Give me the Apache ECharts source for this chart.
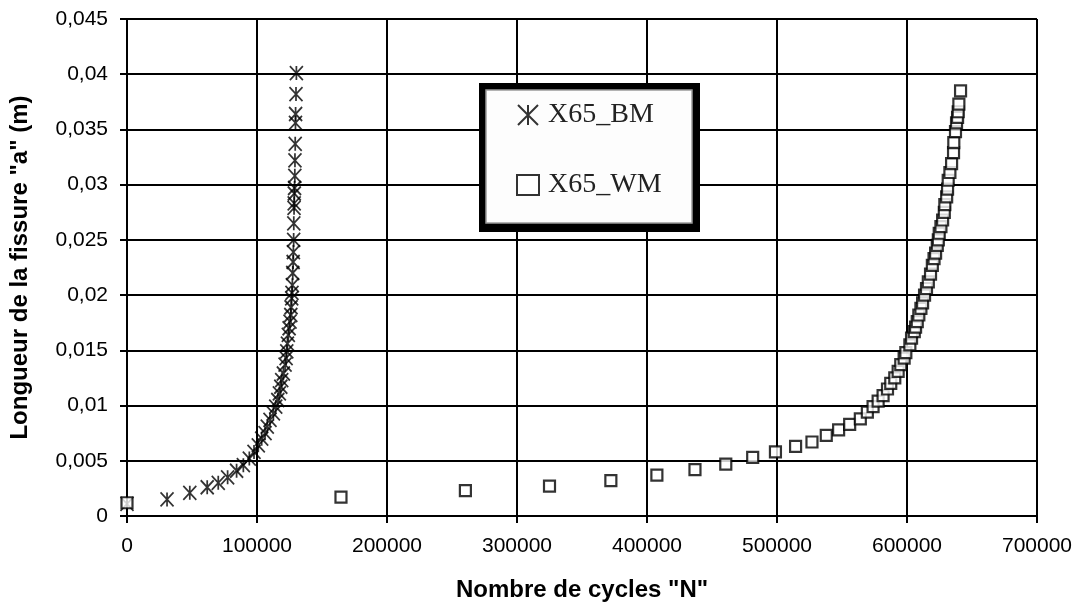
<!DOCTYPE html>
<html>
<head>
<meta charset="utf-8">
<script src="https://cdn.jsdelivr.net/npm/echarts@6/dist/echarts.min.js"></script>
<style>
html,body{margin:0;padding:0;background:#fff;}
#chart{width:1080px;height:610px;}
</style>
</head>
<body>
<div id="chart"></div>
<script>
// ---- data ----
const seriesNames = ['X65_BM', 'X65_WM'];
const xTickLabels = ['0', '100000', '200000', '300000', '400000', '500000', '600000', '700000'];
const yTickLabels = ['0', '0,005', '0,01', '0,015', '0,02', '0,025', '0,03', '0,035', '0,04', '0,045'];
const xAxisTitle = 'Nombre de cycles "N"';
const yAxisTitle = 'Longueur de la fissure "a" (m)';

const bmCycles = [0, 30800, 48300, 61700, 70200, 77400, 84300, 89500, 94100, 97700,
  101000, 103600, 106200, 107900, 110000, 112600, 114400, 116000, 117200, 118300,
  119000, 120300, 121600, 122400, 122900, 123400, 124100, 124700, 125400, 126000,
  126200, 126700, 126900, 127200, 127500, 127800, 128000, 128200, 128300, 128500,
  128600, 128700, 128900, 129100, 129200, 129400, 129600, 129700, 130000, 130300];
const bmLength = [0.0011, 0.0015, 0.0021, 0.0026, 0.0030, 0.0035, 0.0041, 0.0046, 0.0052, 0.0058,
  0.0064, 0.0070, 0.0075, 0.0081, 0.0087, 0.0093, 0.0099, 0.0105, 0.0111, 0.0117,
  0.0123, 0.0129, 0.0137, 0.0143, 0.0149, 0.0156, 0.0164, 0.0170, 0.0176, 0.0182,
  0.0189, 0.0197, 0.0202, 0.0209, 0.0220, 0.0230, 0.0239, 0.0250, 0.0265, 0.0279,
  0.0283, 0.0292, 0.0297, 0.0308, 0.0322, 0.0337, 0.0356, 0.0364, 0.0382, 0.0401];

const wmCycles = [0, 164600, 260300, 325000, 372200, 407600, 436900, 460600, 481300, 498800,
  514300, 526900, 537900, 547400, 555900, 564100, 569500, 573900, 577800, 581600,
  585000, 587500, 590600, 593200, 595200, 597800, 599100, 602200, 603500, 605600,
  606600, 607900, 609100, 610700, 612000, 613500, 615000, 616400, 618100, 619500,
  620800, 622000, 623300, 624100, 624800, 626100, 627400, 628700, 629100, 630500,
  631200, 631700, 633000, 634300, 635800, 636000, 637300, 638100, 638900, 639400,
  639900, 641200];
const wmLength = [0.0012, 0.0017, 0.0023, 0.0027, 0.0032, 0.0037, 0.0042, 0.0047, 0.0053, 0.0058,
  0.0063, 0.0067, 0.0073, 0.0078, 0.0083, 0.0088, 0.0094, 0.0099, 0.0104, 0.0109,
  0.0115, 0.0120, 0.0125, 0.0131, 0.0137, 0.0143, 0.0148, 0.0155, 0.0161, 0.0167,
  0.0171, 0.0176, 0.0182, 0.0188, 0.0193, 0.0200, 0.0206, 0.0212, 0.0219, 0.0227,
  0.0233, 0.0238, 0.0245, 0.0250, 0.0256, 0.0262, 0.0268, 0.0275, 0.0282, 0.0289,
  0.0296, 0.0304, 0.0311, 0.0319, 0.0329, 0.0338, 0.0348, 0.0356, 0.0361, 0.0366,
  0.0373, 0.0385];

// ---- chart ----
const pairs = (xs, ys) => xs.map((x, i) => [x, ys[i]]);
const asterisk = 'path://M0,0L12,12M12,0L0,12M6,0L6,12';
const sans = "'Liberation Sans', Arial, sans-serif";

const chart = echarts.init(document.getElementById('chart'), null, {renderer: 'canvas'});
chart.setOption({
  animation: false,
  backgroundColor: '#ffffff',
  grid: {left: 127, top: 19, right: 43, bottom: 94, containLabel: false},
  xAxis: {
    type: 'value', min: 0, max: 700000, interval: 100000,
    name: xAxisTitle, nameLocation: 'middle', nameGap: 62,
    nameTextStyle: {fontFamily: sans, fontWeight: 'bold', fontSize: 24, color: '#000'},
    axisLine: {show: true, lineStyle: {color: '#000', width: 2}},
    axisTick: {show: true, inside: false, length: 7, lineStyle: {color: '#000', width: 2}},
    axisLabel: {margin: 20, fontFamily: sans, fontSize: 21, color: '#000',
      formatter: (v, i) => xTickLabels[i]},
    splitLine: {show: true, lineStyle: {color: '#000', width: 2}}
  },
  yAxis: {
    type: 'value', min: 0, max: 0.045, interval: 0.005,
    name: yAxisTitle, nameLocation: 'middle', nameGap: 95, nameRotate: 90,
    nameTextStyle: {fontFamily: sans, fontWeight: 'bold', fontSize: 24, color: '#000'},
    axisLine: {show: true, lineStyle: {color: '#000', width: 2}},
    axisTick: {show: true, inside: false, length: 7, lineStyle: {color: '#000', width: 2}},
    axisLabel: {margin: 19, fontFamily: sans, fontSize: 21, color: '#000',
      formatter: (v, i) => yTickLabels[i]},
    splitLine: {show: true, lineStyle: {color: '#000', width: 2}}
  },
  graphic: [
    {type: 'rect', z: 50, shape: {x: 479, y: 83, width: 221, height: 149}, style: {fill: '#000'}},
    {type: 'rect', z: 51, shape: {x: 486, y: 90, width: 206, height: 133},
      style: {fill: '#fdfdfd', stroke: '#9a9a9a', lineWidth: 1.5}}
  ],
  legend: {
    z: 60,
    orient: 'vertical', left: 516, top: 100, padding: 0,
    itemWidth: 22, itemHeight: 20, itemGap: 40,
    textStyle: {fontFamily: "'Liberation Serif', 'Times New Roman', serif", fontSize: 28,
      color: '#222', lineHeight: 30, padding: [0, 0, 0, 4]},
    data: seriesNames
  },
  series: [
    {
      name: seriesNames[0], type: 'scatter', data: pairs(bmCycles, bmLength),
      symbol: asterisk, symbolSize: [13, 14],
      itemStyle: {color: 'rgba(0,0,0,0)', borderColor: '#000', borderWidth: 1.8},
      z: 3
    },
    {
      name: seriesNames[1], type: 'scatter', data: pairs(wmCycles, wmLength),
      symbol: 'rect', symbolSize: 11,
      itemStyle: {color: '#fff', borderColor: '#000', borderWidth: 2.2},
      z: 4
    }
  ]
});
</script>
</body>
</html>
